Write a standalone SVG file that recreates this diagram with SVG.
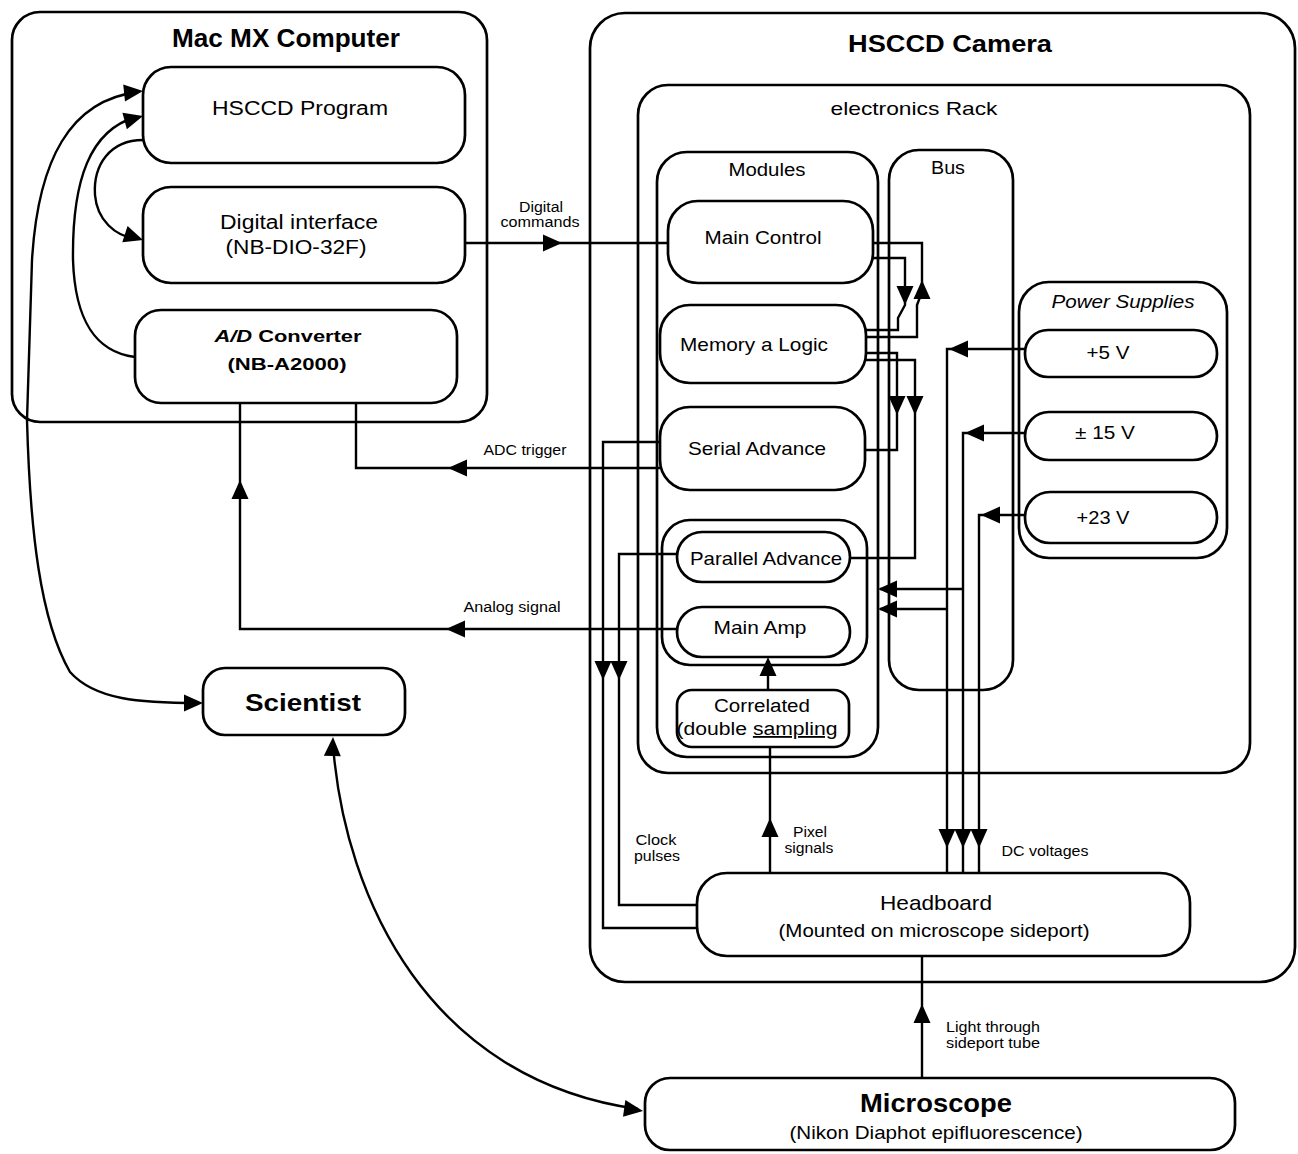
<svg xmlns="http://www.w3.org/2000/svg" xmlns:xlink="http://www.w3.org/1999/xlink" width="1298" height="1154" viewBox="0 0 1298 1154">
<style>
.box{fill:none;stroke:#000;stroke-width:2.7}
.ln{fill:none;stroke:#000;stroke-width:2.4}
text{font-family:"Liberation Sans",Arial,sans-serif;fill:#000;text-anchor:middle}
.b{font-weight:bold}
.sm{font-size:14px}
</style>
<defs>
<path id="ah" d="M0,0 L-19,-8.5 L-19,8.5 Z" fill="#000"/>
</defs>
<rect width="1298" height="1154" fill="#fff"/>

<g id="mac">
<rect class="box" x="12" y="12" width="475" height="410" rx="28"/>
<text class="b" x="286" y="47" font-size="26" textLength="228" lengthAdjust="spacingAndGlyphs">Mac MX Computer</text>
</g>
<g id="hsccd-program">
<rect class="box" x="143" y="67" width="322" height="96" rx="28"/>
<text x="300" y="115" font-size="20" textLength="176" lengthAdjust="spacingAndGlyphs">HSCCD Program</text>
</g>
<g id="digital-interface">
<rect class="box" x="143" y="187" width="322" height="96" rx="28"/>
<text x="299" y="229" font-size="20" textLength="158" lengthAdjust="spacingAndGlyphs">Digital interface</text>
<text x="296" y="254" font-size="20" textLength="141" lengthAdjust="spacingAndGlyphs">(NB-DIO-32F)</text>
</g>
<g id="ad-converter">
<rect class="box" x="135" y="310" width="322" height="93" rx="26"/>
<text class="b" x="288" y="342" font-size="16" textLength="147" lengthAdjust="spacingAndGlyphs"><tspan font-style="italic">A/D</tspan> Converter</text>
<text class="b" x="287" y="370" font-size="16" textLength="119" lengthAdjust="spacingAndGlyphs">(NB-A2000)</text>
</g>

<g id="camera">
<rect class="box" x="590" y="13" width="705" height="969" rx="35"/>
<text class="b" x="950" y="52" font-size="24" textLength="204" lengthAdjust="spacingAndGlyphs">HSCCD Camera</text>
</g>
<g id="rack">
<rect class="box" x="638" y="85" width="612" height="688" rx="30"/>
<text x="914" y="115" font-size="19" textLength="167" lengthAdjust="spacingAndGlyphs">electronics Rack</text>
</g>
<g id="modules">
<rect class="box" x="657" y="152" width="221" height="605" rx="30"/>
<text x="767" y="176" font-size="18" textLength="77" lengthAdjust="spacingAndGlyphs">Modules</text>
</g>
<g id="bus">
<rect class="box" x="889" y="150" width="124" height="540" rx="30"/>
<text x="948" y="174" font-size="18" textLength="34" lengthAdjust="spacingAndGlyphs">Bus</text>
</g>
<g id="power-supplies">
<rect class="box" x="1019" y="282" width="208" height="276" rx="30"/>
<text x="1123" y="308" font-size="18" font-style="italic" textLength="143" lengthAdjust="spacingAndGlyphs">Power Supplies</text>
</g>
<g id="p5v">
<rect class="box" x="1025" y="330" width="192" height="47" rx="23"/>
<text x="1108" y="359" font-size="18" textLength="43" lengthAdjust="spacingAndGlyphs">+5 V</text>
</g>
<g id="p15v">
<rect class="box" x="1025" y="412" width="192" height="48" rx="24"/>
<text x="1105" y="439" font-size="18" textLength="60" lengthAdjust="spacingAndGlyphs">± 15 V</text>
</g>
<g id="p23v">
<rect class="box" x="1025" y="492" width="192" height="51" rx="25"/>
<text x="1103" y="524" font-size="18" textLength="53" lengthAdjust="spacingAndGlyphs">+23 V</text>
</g>
<g id="main-control">
<rect class="box" x="668" y="201" width="205" height="82" rx="30"/>
<text x="763" y="244" font-size="18" textLength="117" lengthAdjust="spacingAndGlyphs">Main Control</text>
</g>
<g id="memory-logic">
<rect class="box" x="660" y="305" width="206" height="78" rx="30"/>
<text x="754" y="351" font-size="19" textLength="148" lengthAdjust="spacingAndGlyphs">Memory a Logic</text>
</g>
<g id="serial-advance">
<rect class="box" x="660" y="407" width="205" height="83" rx="30"/>
<text x="757" y="455" font-size="19" textLength="138" lengthAdjust="spacingAndGlyphs">Serial Advance</text>
</g>
<g id="amp-group">
<rect class="box" x="662" y="520" width="205" height="145" rx="28"/>
</g>
<g id="parallel-advance">
<rect class="box" x="677" y="532" width="173" height="50" rx="25"/>
<text x="766" y="565" font-size="19" textLength="152" lengthAdjust="spacingAndGlyphs">Parallel Advance</text>
</g>
<g id="main-amp">
<rect class="box" x="677" y="607" width="173" height="50" rx="25"/>
<text x="760" y="634" font-size="19" textLength="93" lengthAdjust="spacingAndGlyphs">Main Amp</text>
</g>
<g id="correlated">
<rect class="box" x="677" y="690" width="172" height="57" rx="15"/>
<text x="762" y="712" font-size="18" textLength="96" lengthAdjust="spacingAndGlyphs">Correlated</text>
<text x="757" y="735" font-size="18" textLength="161" lengthAdjust="spacingAndGlyphs">(double <tspan text-decoration="underline">sampling</tspan></text>
</g>
<g id="headboard">
<rect class="box" x="697" y="873" width="493" height="83" rx="30"/>
<text x="936" y="910" font-size="21" textLength="112" lengthAdjust="spacingAndGlyphs">Headboard</text>
<text x="934" y="937" font-size="19" textLength="311" lengthAdjust="spacingAndGlyphs">(Mounted on microscope sideport)</text>
</g>
<g id="microscope">
<rect class="box" x="645" y="1078" width="590" height="72" rx="25"/>
<text class="b" x="936" y="1112" font-size="26" textLength="152" lengthAdjust="spacingAndGlyphs">Microscope</text>
<text x="936" y="1139" font-size="19" textLength="293" lengthAdjust="spacingAndGlyphs">(Nikon Diaphot epifluorescence)</text>
</g>
<g id="scientist">
<rect class="box" x="203" y="668" width="202" height="67" rx="22"/>
<text class="b" x="303" y="711" font-size="24" textLength="116" lengthAdjust="spacingAndGlyphs">Scientist</text>
</g>

<g id="connectors">
<path class="ln" d="M138,92 C70,100 38,160 32,260 L27,420 C30,530 40,620 70,672 C95,700 140,703 199,703"/>
<use xlink:href="#ah" transform="translate(143,91) rotate(-6)"/>
<use xlink:href="#ah" transform="translate(203,703)"/>
<path class="ln" d="M135,357 C95,352 75,320 73,260 C72,180 90,130 136,117"/>
<use xlink:href="#ah" transform="translate(143,116) rotate(-15)"/>
<path class="ln" d="M143,140 C110,140 93,165 95,195 C97,220 115,236 136,239"/>
<use xlink:href="#ah" transform="translate(143,240) rotate(18)"/>
<path class="ln" d="M465,243 L668,243"/>
<use xlink:href="#ah" transform="translate(562,243)"/>
<text class="sm" x="541" y="212" font-size="13" textLength="44" lengthAdjust="spacingAndGlyphs">Digital</text>
<text class="sm" x="540" y="227" font-size="13" textLength="79" lengthAdjust="spacingAndGlyphs">commands</text>
<path class="ln" d="M660,468 L356,468 L356,403"/>
<use xlink:href="#ah" transform="translate(448,468) rotate(180)"/>
<text class="sm" x="525" y="455" textLength="83" lengthAdjust="spacingAndGlyphs">ADC trigger</text>
<path class="ln" d="M677,629 L240,629 L240,403"/>
<use xlink:href="#ah" transform="translate(446,629) rotate(180)"/>
<use xlink:href="#ah" transform="translate(240,480) rotate(-90)"/>
<text class="sm" x="512" y="612" textLength="97" lengthAdjust="spacingAndGlyphs">Analog signal</text>
<path class="ln" d="M660,442 L603,442 L603,928 L697,928"/>
<path class="ln" d="M677,554 L619,554 L619,905 L697,905"/>
<use xlink:href="#ah" transform="translate(603,680) rotate(90)"/>
<use xlink:href="#ah" transform="translate(619,680) rotate(90)"/>
<text class="sm" x="656" y="845" textLength="41" lengthAdjust="spacingAndGlyphs">Clock</text>
<text class="sm" x="657" y="861" textLength="46" lengthAdjust="spacingAndGlyphs">pulses</text>
<path class="ln" d="M770,873 L770,747"/>
<use xlink:href="#ah" transform="translate(770,818) rotate(-90)"/>
<text class="sm" x="810" y="837" textLength="34" lengthAdjust="spacingAndGlyphs">Pixel</text>
<text class="sm" x="809" y="853" textLength="49" lengthAdjust="spacingAndGlyphs">signals</text>
<path class="ln" d="M768,690 L768,662"/>
<use xlink:href="#ah" transform="translate(768,657) rotate(-90)"/>
<path class="ln" d="M922,1078 L922,956"/>
<use xlink:href="#ah" transform="translate(922,1004) rotate(-90)"/>
<text class="sm" x="993" y="1032" textLength="94" lengthAdjust="spacingAndGlyphs">Light through</text>
<text class="sm" x="993" y="1048" textLength="94" lengthAdjust="spacingAndGlyphs">sideport tube</text>
<path class="ln" d="M333,745 C345,900 430,1080 638,1109"/>
<use xlink:href="#ah" transform="translate(333,737) rotate(-88)"/>
<use xlink:href="#ah" transform="translate(643,1111) rotate(8)"/>
<path class="ln" d="M1025,349 L947,349 L947,873"/>
<path class="ln" d="M1025,433 L963,433 L963,873"/>
<path class="ln" d="M1025,515 L979,515 L979,873"/>
<use xlink:href="#ah" transform="translate(949,349) rotate(180)"/>
<use xlink:href="#ah" transform="translate(965,433) rotate(180)"/>
<use xlink:href="#ah" transform="translate(981,515) rotate(180)"/>
<use xlink:href="#ah" transform="translate(947,848) rotate(90)"/>
<use xlink:href="#ah" transform="translate(963,848) rotate(90)"/>
<use xlink:href="#ah" transform="translate(979,848) rotate(90)"/>
<text class="sm" x="1045" y="856" textLength="87" lengthAdjust="spacingAndGlyphs">DC voltages</text>
<path class="ln" d="M963,589 L880,589"/>
<path class="ln" d="M947,609 L880,609"/>
<use xlink:href="#ah" transform="translate(878,589) rotate(180)"/>
<use xlink:href="#ah" transform="translate(878,609) rotate(180)"/>
<path class="ln" d="M873,258 L905,258 L905,305 L898,318 L898,330 L866,330"/>
<use xlink:href="#ah" transform="translate(905,305) rotate(90)"/>
<path class="ln" d="M866,337 L917,337 L917,305 L922,292 L922,243 L873,243"/>
<use xlink:href="#ah" transform="translate(922,280) rotate(-90)"/>
<path class="ln" d="M866,353 L897,353 L897,450 L865,450"/>
<use xlink:href="#ah" transform="translate(897,415) rotate(90)"/>
<path class="ln" d="M866,360 L915,360 L915,558 L850,558"/>
<use xlink:href="#ah" transform="translate(915,415) rotate(90)"/>
</g>
</svg>
